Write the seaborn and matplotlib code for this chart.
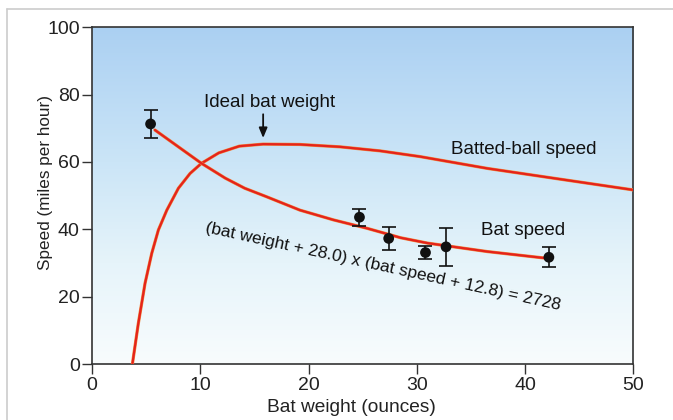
import numpy as np
import matplotlib
matplotlib.use("Agg")
import matplotlib.pyplot as plt
import matplotlib.patheffects as pe
from matplotlib.colors import LinearSegmentedColormap
from matplotlib.lines import Line2D
import seaborn as sns

# Batted-ball speed curve
ball_weight = [3.72, 4.27, 4.89, 5.51, 6.12, 6.9, 7.97, 9.05, 10.1, 11.7, 13.6, 15.8,
               19.2, 22.9, 26.6, 30.3, 36.5, 42.6, 50.0]
ball_speed = [0.0, 12.1, 24.0, 32.9, 39.8, 45.7, 52.2, 56.6, 59.6, 62.7, 64.7, 65.3,
              65.2, 64.5, 63.3, 61.6, 58.1, 55.2, 51.7]

# Bat speed curve
bat_weight = [5.8, 7.97, 10.1, 12.3, 14.1, 16.1, 19.2, 22.3, 25.4, 28.5, 31.0, 36.5, 42.0]
bat_speed = [69.5, 64.5, 59.6, 55.2, 52.2, 49.7, 45.7, 42.8, 40.3, 37.5, 35.9, 33.4, 31.4]

# Measured points with error bars
pt_weight = [5.4, 24.7, 27.4, 30.8, 32.7, 42.2]
pt_speed = [71.3, 43.6, 37.3, 33.1, 34.8, 31.7]
pt_err = [4.2, 2.5, 3.3, 2.0, 5.7, 3.0]

x_ticks = [0, 10, 20, 30, 40, 50]
y_ticks = [0, 20, 40, 60, 80, 100]

sns.set_style("ticks")
plt.rcParams['font.family'] = ['Liberation Sans', 'DejaVu Sans']

fig = plt.figure(figsize=(6.73, 4.2), dpi=100)
ax = fig.add_axes([0.1369, 0.1333, 0.8041, 0.8017])

# gradient background
cmap = LinearSegmentedColormap.from_list(
    "bg", [(0.0, "#f8fcfd"), (0.3, "#e6f4fa"), (0.6, "#cbe5f7"), (1.0, "#abd0f2")])
grad = np.linspace(0, 1, 256).reshape(-1, 1)
ax.imshow(grad, cmap=cmap, origin="lower", extent=[0, 50, 0, 100],
          aspect="auto", zorder=0, interpolation="bicubic")

red = "#e5231b"
glow = [pe.Stroke(linewidth=2.3, foreground="#f08a40"), pe.Normal()]
for xs, ys in [(ball_weight, ball_speed), (bat_weight, bat_speed)]:
    sns.lineplot(x=xs, y=ys, ax=ax, color=red, lw=1.6, sort=False, zorder=3,
                 path_effects=glow)

ax.errorbar(pt_weight, pt_speed, yerr=pt_err, fmt="none", ecolor="#111111",
            elinewidth=1.2, capsize=5, capthick=1.2, zorder=4)
sns.scatterplot(x=pt_weight, y=pt_speed, ax=ax, color="#111111", s=60,
                edgecolor="none", zorder=5)

ax.set_xlim(0, 50)
ax.set_ylim(0, 100)
ax.set_xticks(x_ticks)
ax.set_yticks(y_ticks)
ax.tick_params(axis="both", direction="out", length=7.5, width=1.0,
               color="#333333", labelsize=14, labelcolor="#222222", pad=1.5)
for side in ["left", "bottom", "top", "right"]:
    ax.spines[side].set_visible(True)
    ax.spines[side].set_color("#333333")
    ax.spines[side].set_linewidth(1.2)

ax.set_xlabel("Bat weight (ounces)", fontsize=13.8, color="#222222")
ax.set_ylabel("Speed (miles per hour)", fontsize=12.3, color="#222222")
ax.xaxis.set_label_coords(0.48, -0.105)
ax.yaxis.set_label_coords(-0.072, 0.54)

# annotations
ax.annotate("", xy=(15.8, 66.3), xytext=(15.8, 75.0),
            arrowprops=dict(arrowstyle="-|>,head_length=0.6,head_width=0.25",
                            color="#111111", lw=1.3), zorder=6)
ax.text(16.4, 77.6, "Ideal bat weight", fontsize=13.5, ha="center", va="center", color="#111111")
ax.text(33.2, 63.6, "Batted-ball speed", fontsize=13.5, ha="left", va="center", color="#111111")
ax.text(35.9, 39.8, "Bat speed", fontsize=13.5, ha="left", va="center", color="#111111")
ax.text(26.9, 28.9, "(bat weight + 28.0) x (bat speed + 12.8) = 2728", fontsize=12.5,
        ha="center", va="center", rotation=-12.4, rotation_mode="anchor", color="#111111")

# outer frame lines
fig.add_artist(Line2D([7 / 673, 1.0], [1 - 9 / 420, 1 - 9 / 420], color="#cccccc", lw=1.2))
fig.add_artist(Line2D([7 / 673, 7 / 673], [0.0, 1 - 9 / 420], color="#cccccc", lw=1.2))

fig.savefig("out.png", dpi=100)
